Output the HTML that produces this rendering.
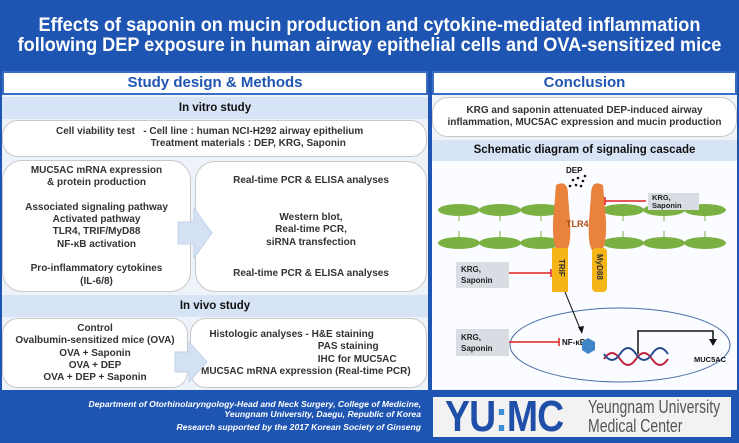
<!DOCTYPE html>
<html><head><meta charset="utf-8"><style>
*{margin:0;padding:0;box-sizing:border-box}
body{width:739px;height:443px;overflow:hidden;background:#1f55b2;font-family:"Liberation Sans",Arial,sans-serif;position:relative}
.a{position:absolute}
.t{font-weight:bold;color:#333;text-align:center;font-size:10px;line-height:12.3px}
.box{position:absolute;background:#fff;border:1.5px solid #c9c9c9;border-radius:16px}
.band{position:absolute;background:#d7e4f6;text-align:center;font-weight:bold;font-size:11.5px;color:#111}
.hd{position:absolute;background:#fff;border:2px solid #3a6cc4;text-align:center;font-weight:bold;color:#1f55b2;font-size:15px;line-height:20px}
</style></head><body>
<div class="a" style="left:-100px;top:15px;width:939px;text-align:center;color:#fff;font-weight:bold;font-size:19.5px;line-height:20px;white-space:nowrap;transform:scaleX(0.93);transform-origin:469px 0">Effects of saponin on mucin production and cytokine-mediated inflammation<br>following DEP exposure in human airway epithelial cells and OVA-sensitized mice</div>

<div class="a" style="left:2px;top:94px;width:426px;height:296px;background:#eef2f9"></div>
<div class="a" style="left:432px;top:94px;width:305px;height:296px;background:#eef2f9"></div>

<div class="hd" style="left:2px;top:71px;width:426px;height:24px">Study design &amp; Methods</div>
<div class="hd" style="left:432px;top:71px;width:305px;height:24px">Conclusion</div>

<div class="band" style="left:2px;top:97px;width:426px;height:22px;line-height:22px">In vitro study</div>
<div class="box" style="left:2px;top:120px;width:425px;height:37px"></div>
<div class="a t" style="left:56px;top:126px;white-space:pre;text-align:left">Cell viability test   - Cell line : human NCI-H292 airway epithelium
                                  Treatment materials : DEP, KRG, Saponin</div>

<div class="box" style="left:2px;top:160px;width:189px;height:132px;border-radius:20px"></div>
<div class="a t" style="left:2px;top:165px;width:189px">MUC5AC mRNA expression<br>&amp; protein production<br><br>Associated signaling pathway<br>Activated pathway<br>TLR4, TRIF/MyD88<br>NF-κB activation<br><br>Pro-inflammatory cytokines<br>(IL-6/8)</div>
<div class="box" style="left:195px;top:161px;width:232px;height:131px;border-radius:20px"></div>
<div class="a t" style="left:195px;top:175px;width:232px">Real-time PCR &amp; ELISA analyses</div>
<div class="a t" style="left:195px;top:212px;width:232px">Western blot,<br>Real-time PCR,<br>siRNA transfection</div>
<div class="a t" style="left:195px;top:268px;width:232px">Real-time PCR &amp; ELISA analyses</div>
<svg class="a" style="left:176px;top:206px" width="38" height="54"><path d="M2 16H18V2L36 27L18 52V38H2Z" fill="#d4e1f4" stroke="#c3d2ea"/></svg>

<div class="band" style="left:2px;top:295px;width:426px;height:22px;line-height:22px">In vivo study</div>
<div class="box" style="left:2px;top:318px;width:186px;height:70px"></div>
<div class="a t" style="left:2px;top:323px;width:186px">Control<br>Ovalbumin-sensitized mice (OVA)<br>OVA + Saponin<br>OVA + DEP<br>OVA + DEP + Saponin</div>
<div class="box" style="left:190px;top:318px;width:237px;height:70px"></div>
<div class="a t" style="left:201px;top:329px;white-space:pre;text-align:left">   Histologic analyses - H&amp;E staining
                                          PAS staining
                                          IHC for MUC5AC
MUC5AC mRNA expression (Real-time PCR)</div>
<svg class="a" style="left:173px;top:340px" width="36" height="44"><path d="M2 12H16V2L34 22L16 42V32H2Z" fill="#d4e1f4" stroke="#c3d2ea"/></svg>

<div class="box" style="left:432px;top:97px;width:305px;height:40px"></div>
<div class="a t" style="left:432px;top:105px;width:305px">KRG and saponin attenuated DEP-induced airway<br>inflammation, MUC5AC expression and mucin production</div>
<div class="band" style="left:432px;top:140px;width:305px;height:21px;line-height:21px">Schematic diagram of signaling cascade</div>

<svg class="a" style="left:432px;top:161px" width="305" height="228" font-family="Liberation Sans,sans-serif" font-weight="bold">
<rect width="305" height="228" fill="#fafcff"/>
<g fill="#7bb043">
<ellipse cx="27" cy="49" rx="21" ry="6"/><ellipse cx="68" cy="49" rx="21" ry="6"/><ellipse cx="109" cy="49" rx="21" ry="6"/>
<ellipse cx="191" cy="49" rx="21" ry="6"/><ellipse cx="232" cy="49" rx="21" ry="6"/><ellipse cx="273" cy="49" rx="21" ry="6"/>
<ellipse cx="27" cy="82" rx="21" ry="6"/><ellipse cx="68" cy="82" rx="21" ry="6"/><ellipse cx="109" cy="82" rx="21" ry="6"/>
<ellipse cx="191" cy="82" rx="21" ry="6"/><ellipse cx="232" cy="82" rx="21" ry="6"/><ellipse cx="273" cy="82" rx="21" ry="6"/>
</g>
<g stroke="#7bb043" stroke-width="1"><path d="M27 55V60M27 70V76M68 55V60M68 70V76M109 55V60M109 70V76M191 55V60M191 70V76M232 55V60M232 70V76M273 55V60M273 70V76"/></g>
<g fill="#e8823c">
<path d="M124 24Q136 18 136 34L138 60Q140 92 130 92Q120 92 121 60Z"/>
<path d="M171 24Q159 18 159 34L157 60Q155 92 165 92Q175 92 174 60Z"/>
</g>
<text x="134" y="66" font-size="9" fill="#b04a10">TLR4</text>
<text x="134" y="12" font-size="8" fill="#111">DEP</text>
<g fill="#111"><circle cx="141" cy="19" r="1.3"/><circle cx="146" cy="17" r="1.3"/><circle cx="151" cy="20" r="1.3"/><circle cx="144" cy="24" r="1.3"/><circle cx="149" cy="25" r="1.3"/><circle cx="138" cy="25" r="1.3"/><circle cx="153" cy="15" r="1.3"/></g>
<rect x="120" y="87" width="16" height="44" fill="#f5b417"/><text transform="translate(127,98) rotate(90)" font-size="8" fill="#333">TRIF</text>
<rect x="160" y="87" width="15" height="44" rx="4" fill="#f5b417"/><text transform="translate(165,93) rotate(90)" font-size="8" fill="#333">MyD88</text>
<rect x="216" y="32" width="51" height="17" fill="#d9dde3"/><text x="220" y="39" font-size="7.5" fill="#222">KRG,</text><text x="220" y="47" font-size="7.5" fill="#222">Saponin</text>
<path d="M214 40H173M173 36V44" stroke="#e02020" stroke-width="1.5"/>
<rect x="24" y="101" width="53" height="26" fill="#d9dde3"/><text x="29" y="111" font-size="8" fill="#222">KRG,</text><text x="29" y="122" font-size="8" fill="#222">Saponin</text>
<path d="M77 112H119M119 108V116" stroke="#e02020" stroke-width="1.5"/>
<ellipse cx="188" cy="184" rx="110" ry="37" fill="none" stroke="#4a6fa5" stroke-width="1"/>
<rect x="24" y="168" width="53" height="27" fill="#d9dde3"/><text x="29" y="179" font-size="8" fill="#222">KRG,</text><text x="29" y="190" font-size="8" fill="#222">Saponin</text>
<path d="M77 181H127M127 177V185" stroke="#e02020" stroke-width="1.5"/>
<text x="130" y="184" font-size="8" fill="#111">NF-κB</text>
<path d="M133 131L149 170" stroke="#111" stroke-width="1"/><path d="M146 166L150 173L152 165Z" fill="#111"/>
<polygon points="150,181 156,177 163,181 163,189 156,193 150,189" fill="#3f85c8"/>
<path d="M172 198Q180 186 188 198T204 198T220 198T236 198" stroke="#c0203a" fill="none" stroke-width="2"/>
<path d="M172 193Q180 205 188 193T204 193T220 193T236 193" stroke="#2a4a8f" fill="none" stroke-width="2"/>
<path d="M206 193V170H281V180" stroke="#111" stroke-width="1.5" fill="none"/><path d="M277 178L281 185L285 178Z" fill="#111"/>
<text x="262" y="201" font-size="7.5" fill="#111">MUC5AC</text>
</svg>

<div class="a" style="left:0;top:399px;width:421px;text-align:right;color:#fff;font-weight:bold;font-style:italic;font-size:8.6px;line-height:10px">Department of Otorhinolaryngology-Head and Neck Surgery, College of Medicine,<br>Yeungnam University, Daegu, Republic of Korea</div>
<div class="a" style="left:0;top:422px;width:421px;text-align:right;color:#fff;font-weight:bold;font-style:italic;font-size:8.6px;line-height:10px">Research supported by the 2017 Korean Society of Ginseng</div>
<div class="a" style="left:433px;top:397px;width:298px;height:40px;background:#f2f2f2;overflow:hidden">
<div class="a" style="left:12px;top:-2px;font-size:44px;line-height:44px;font-weight:bold;color:#1f4fa8;white-space:nowrap;transform:scaleX(0.85);transform-origin:0 0;letter-spacing:-1px">YU<span style="color:#3d8fd8">:</span>MC</div>
<div class="a" style="left:155px;top:1px;font-size:18px;line-height:19px;color:#555;white-space:nowrap;transform:scaleX(0.78);transform-origin:0 0">Yeungnam University<br>Medical Center</div>
</div>
</body></html>
